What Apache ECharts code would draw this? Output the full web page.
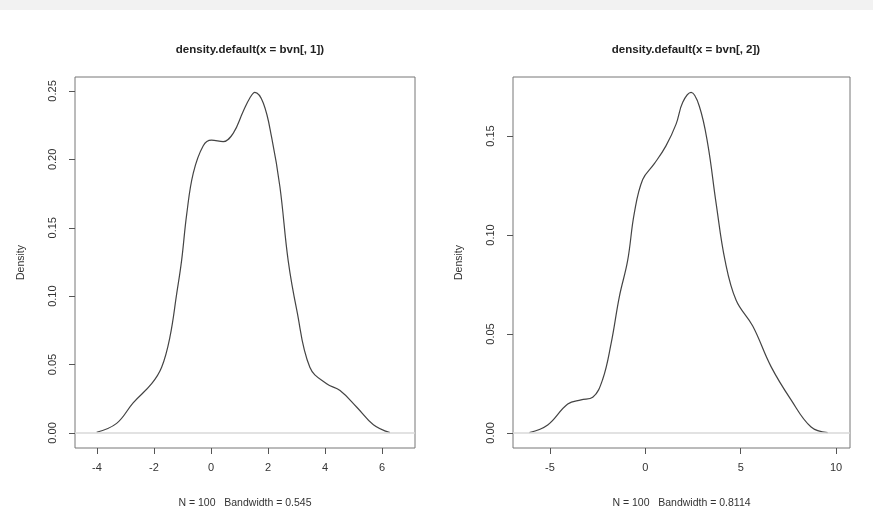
<!DOCTYPE html>
<html>
<head>
<meta charset="utf-8">
<script src="https://cdn.jsdelivr.net/npm/echarts@6/dist/echarts.min.js"></script>
<style>
  html, body { margin: 0; padding: 0; background: #fff; }
  #chart { width: 873px; height: 521px; }
</style>
</head>
<body>
<div id="chart"></div>
<script>
// density curve of bvn[,1]
var leftX = [-4.01, -3.31, -2.73, -2.08, -1.73, -1.44, -1.20, -1.03, -0.85, -0.62, -0.27, 0.02, 0.43, 0.78, 1.13, 1.37, 1.54, 1.84, 2.13, 2.42, 2.71, 3.01, 3.47, 4.06, 4.53, 5.11, 5.70, 6.28];
var leftY = [0.0005, 0.007, 0.022, 0.036, 0.048, 0.070, 0.102, 0.126, 0.160, 0.190, 0.210, 0.214, 0.213, 0.219, 0.235, 0.245, 0.249, 0.241, 0.216, 0.180, 0.126, 0.090, 0.048, 0.036, 0.031, 0.019, 0.006, 0.0002];
// density curve of bvn[,2]
var rightX = [-6.08, -5.12, -4.07, -3.37, -2.76, -2.24, -1.80, -1.36, -0.93, -0.58, -0.14, 0.47, 1.08, 1.61, 1.96, 2.40, 2.83, 3.27, 3.71, 4.18, 4.76, 5.63, 6.59, 7.64, 8.69, 9.56];
var rightY = [0.0002, 0.004, 0.0146, 0.0167, 0.018, 0.027, 0.045, 0.069, 0.087, 0.111, 0.128, 0.136, 0.145, 0.156, 0.167, 0.172, 0.165, 0.146, 0.116, 0.087, 0.067, 0.054, 0.0335, 0.0167, 0.003, 0.0002];

var leftXTicks = [-4, -2, 0, 2, 4, 6];
var rightXTicks = [-5, 0, 5, 10];
var leftYTicks = [0, 0.05, 0.10, 0.15, 0.20, 0.25];
var rightYTicks = [0, 0.05, 0.10, 0.15];

var titles = ['density.default(x = bvn[, 1])', 'density.default(x = bvn[, 2])'];
var subtitles = ['N = 100   Bandwidth = 0.545', 'N = 100   Bandwidth = 0.8114'];

function pairs(xs, ys) {
    var out = [];
    for (var i = 0; i < xs.length; i++) {
        out.push([xs[i], ys[i]]);
    }
    return out;
}

var textColor = '#333';
var fontFamily = '"Liberation Sans", Arial, sans-serif';

function makeX(idx, min, max, ticks, name) {
    return {
        type: 'value',
        gridIndex: idx,
        min: min,
        max: max,
        splitLine: { show: false },
        axisLine: { show: false, onZero: false },
        axisTick: { show: true, length: 6, customValues: ticks, lineStyle: { color: '#555' } },
        axisLabel: {
            customValues: ticks,
            margin: 14,
            color: textColor,
            fontSize: 11,
            fontFamily: fontFamily
        },
        name: name,
        nameLocation: 'middle',
        nameGap: 50,
        nameTextStyle: { color: textColor, fontSize: 10.5, fontFamily: fontFamily }
    };
}

function makeY(idx, min, max, ticks) {
    return {
        type: 'value',
        gridIndex: idx,
        min: min,
        max: max,
        splitLine: { show: false },
        axisLine: { show: false, onZero: false },
        axisTick: { show: true, length: 6, customValues: ticks, lineStyle: { color: '#555' } },
        axisLabel: {
            customValues: ticks,
            rotate: 90,
            margin: 17,
            color: textColor,
            fontSize: 11,
            fontFamily: fontFamily,
            formatter: function(v) { return v.toFixed(2); }
        },
        name: 'Density',
        nameLocation: 'middle',
        nameGap: 48,
        nameTextStyle: { color: textColor, fontSize: 10.5, fontFamily: fontFamily }
    };
}

function makeSeries(idx, data) {
    return {
        type: 'line',
        xAxisIndex: idx,
        yAxisIndex: idx,
        data: data,
        smooth: 0.4,
        showSymbol: false,
        silent: true,
        lineStyle: { color: '#444', width: 1.2 },
        markLine: {
            silent: true,
            symbol: 'none',
            label: { show: false },
            lineStyle: { color: '#d9d9d9', width: 1.5, type: 'solid' },
            data: [ { yAxis: 0 } ]
        }
    };
}

var chart = echarts.init(document.getElementById('chart'));
var option = {
    backgroundColor: '#fff',
    animation: false,
    graphic: [
        { type: 'rect', shape: { x: 0, y: 0, width: 873, height: 10 }, style: { fill: '#f2f2f2' }, z: -1 }
    ],
    title: [
        { text: titles[0], left: 245, top: 39, textAlign: 'center',
          textStyle: { fontSize: 11.5, fontWeight: 'bold', color: '#222', fontFamily: fontFamily } },
        { text: titles[1], left: 681, top: 39, textAlign: 'center',
          textStyle: { fontSize: 11.5, fontWeight: 'bold', color: '#222', fontFamily: fontFamily } }
    ],
    grid: [
        { left: 75, right: 458, top: 77, bottom: 73, show: true, borderColor: '#777', borderWidth: 1, backgroundColor: '#fff' },
        { left: 513, right: 23, top: 77, bottom: 73, show: true, borderColor: '#777', borderWidth: 1, backgroundColor: '#fff' }
    ],
    xAxis: [
        makeX(0, -4.77, 7.16, leftXTicks, subtitles[0]),
        makeX(1, -6.94, 10.73, rightXTicks, subtitles[1])
    ],
    yAxis: [
        makeY(0, -0.011, 0.2602, leftYTicks),
        makeY(1, -0.0076, 0.1798, rightYTicks)
    ],
    series: [
        makeSeries(0, pairs(leftX, leftY)),
        makeSeries(1, pairs(rightX, rightY))
    ]
};
chart.setOption(option);
</script>
</body>
</html>
